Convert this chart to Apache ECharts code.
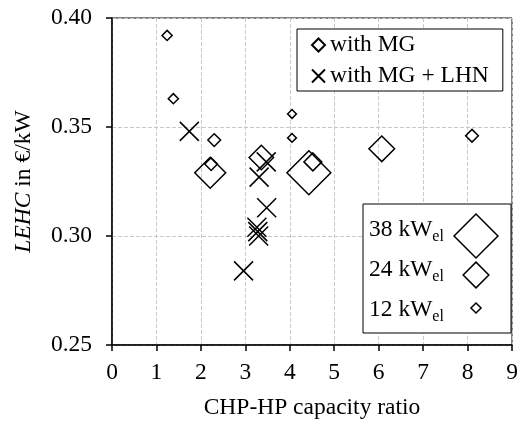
<!DOCTYPE html>
<html>
<head>
<meta charset="utf-8">
<script src="https://cdn.jsdelivr.net/npm/echarts@6/dist/echarts.min.js"></script>
<style>
  html, body { margin: 0; padding: 0; background: #fff; }
  #chart { width: 518px; height: 421px; }
</style>
</head>
<body>
<div id="chart"></div>
<script>
// with MG: capacity ratio, LEHC, CHP size in kW_el (marker size)
var mgRatio = [1.24, 1.38, 2.30, 2.23, 2.21, 3.36, 4.05, 4.05, 4.43, 4.52, 6.07, 8.10];
var mgLehc = [0.392, 0.363, 0.344, 0.333, 0.329, 0.336, 0.356, 0.345, 0.329, 0.334, 0.340, 0.346];
var mgKw = [12, 12, 14, 14, 28, 23, 11, 11, 38, 18, 24, 14];

// with MG + LHN
var lhnRatio = [1.74, 3.47, 3.31, 3.48, 3.26, 3.28, 3.30, 2.96];
var lhnLehc = [0.348, 0.334, 0.327, 0.313, 0.304, 0.302, 0.300, 0.284];

var sizeLegendKw = [38, 24, 12];
var xTicks = [0, 1, 2, 3, 4, 5, 6, 7, 8, 9];
var yTicks = [0.25, 0.30, 0.35, 0.40];

var FONT = "'Liberation Serif', 'DejaVu Serif', serif";
var FS = 23.5;
var crossPath = "path://M0,0L10,10M10,0L0,10";

function kwToSize(kw) {
  return 1.3 * kw - 5.5;
}

var mgData = mgRatio.map(function (x, i) { return [x, mgLehc[i], mgKw[i]]; });
var lhnData = lhnRatio.map(function (x, i) { return [x, lhnLehc[i]]; });

// size legend (graphic), diamonds drawn as polygons
function diamond(cx, cy, s) {
  var h = s / 2;
  return {
    type: "polygon",
    shape: { points: [[cx, cy - h], [cx + h, cy], [cx, cy + h], [cx - h, cy]] },
    style: { fill: "none", stroke: "#000", lineWidth: 1.5 },
    z: 101
  };
}
var sizeLegend = [{
  type: "rect",
  shape: { x: 363, y: 204, width: 148, height: 129 },
  style: { fill: "#fff", stroke: "#000", lineWidth: 1 },
  z: 100
}];
var rowY = [232, 272, 312];
var markY = [236, 275, 308];
sizeLegendKw.forEach(function (kw, i) {
  sizeLegend.push({
    type: "text",
    left: 369,
    top: rowY[i] - 14,
    style: {
      text: "{a|" + kw + " kW}{b|el}",
      rich: {
        a: { fontSize: FS, fontFamily: FONT, fill: "#000" },
        b: { fontSize: 16, fontFamily: FONT, fill: "#000", padding: [13, 0, 0, 0] }
      }
    },
    z: 101
  });
  sizeLegend.push(diamond(476, markY[i], kwToSize(kw)));
});

var myChart = echarts.init(document.getElementById("chart"));
var option = {
  animation: false,
  backgroundColor: "#fff",
  grid: {
    left: 112, right: 6, top: 18, bottom: 76,
    outerBoundsMode: "none",
    show: true, borderColor: "#000", borderWidth: 1
  },
  legend: {
    orient: "vertical",
    left: 297, top: 29,
    padding: [4, 14, 3, 14],
    itemGap: 7,
    itemWidth: 13, itemHeight: 13,
    itemTextGap: 3,
    borderColor: "#000", borderWidth: 1,
    backgroundColor: "#fff",
    textStyle: { fontSize: FS, fontFamily: FONT, color: "#000" },
    data: [
      { name: "with MG", icon: "diamond" },
      { name: "with MG + LHN", icon: crossPath }
    ]
  },
  xAxis: {
    type: "value",
    min: xTicks[0], max: xTicks[xTicks.length - 1], interval: 1,
    name: "CHP-HP capacity ratio",
    nameLocation: "middle",
    nameGap: 51,
    nameTextStyle: { fontSize: FS, fontFamily: FONT, color: "#000" },
    axisLine: { lineStyle: { color: "#000", width: 1.5 } },
    axisTick: { length: 6, lineStyle: { color: "#000", width: 1.5 } },
    axisLabel: { fontSize: FS, fontFamily: FONT, color: "#000", margin: 16 },
    splitLine: { show: true, lineStyle: { color: "#c8c8c8", type: "dashed", width: 1 } }
  },
  yAxis: {
    type: "value",
    min: yTicks[0], max: yTicks[yTicks.length - 1], interval: 0.05,
    name: "{i|LEHC} in €/kW",
    nameLocation: "middle",
    nameGap: 76,
    nameTextStyle: {
      fontSize: FS, fontFamily: FONT, color: "#000",
      rich: { i: { fontSize: FS, fontFamily: FONT, fontStyle: "italic", color: "#000" } }
    },
    axisLine: { lineStyle: { color: "#000", width: 1.5 } },
    axisTick: { length: 6, lineStyle: { color: "#000", width: 1.5 } },
    axisLabel: {
      fontSize: FS, fontFamily: FONT, color: "#000", margin: 20,
      formatter: function (v) { return v.toFixed(2); }
    },
    splitLine: { show: true, lineStyle: { color: "#c8c8c8", type: "dashed", width: 1 } }
  },
  series: [
    {
      name: "with MG",
      type: "scatter",
      symbol: "diamond",
      symbolSize: function (v) { return kwToSize(v[2]); },
      itemStyle: { color: "transparent", borderColor: "#000", borderWidth: 1.5, opacity: 1 },
      data: mgData
    },
    {
      name: "with MG + LHN",
      type: "scatter",
      symbol: crossPath,
      symbolSize: 19,
      itemStyle: { color: "transparent", borderColor: "#000", borderWidth: 1.5, opacity: 1 },
      data: lhnData
    }
  ],
  graphic: sizeLegend
};
myChart.setOption(option);
</script>
</body>
</html>
